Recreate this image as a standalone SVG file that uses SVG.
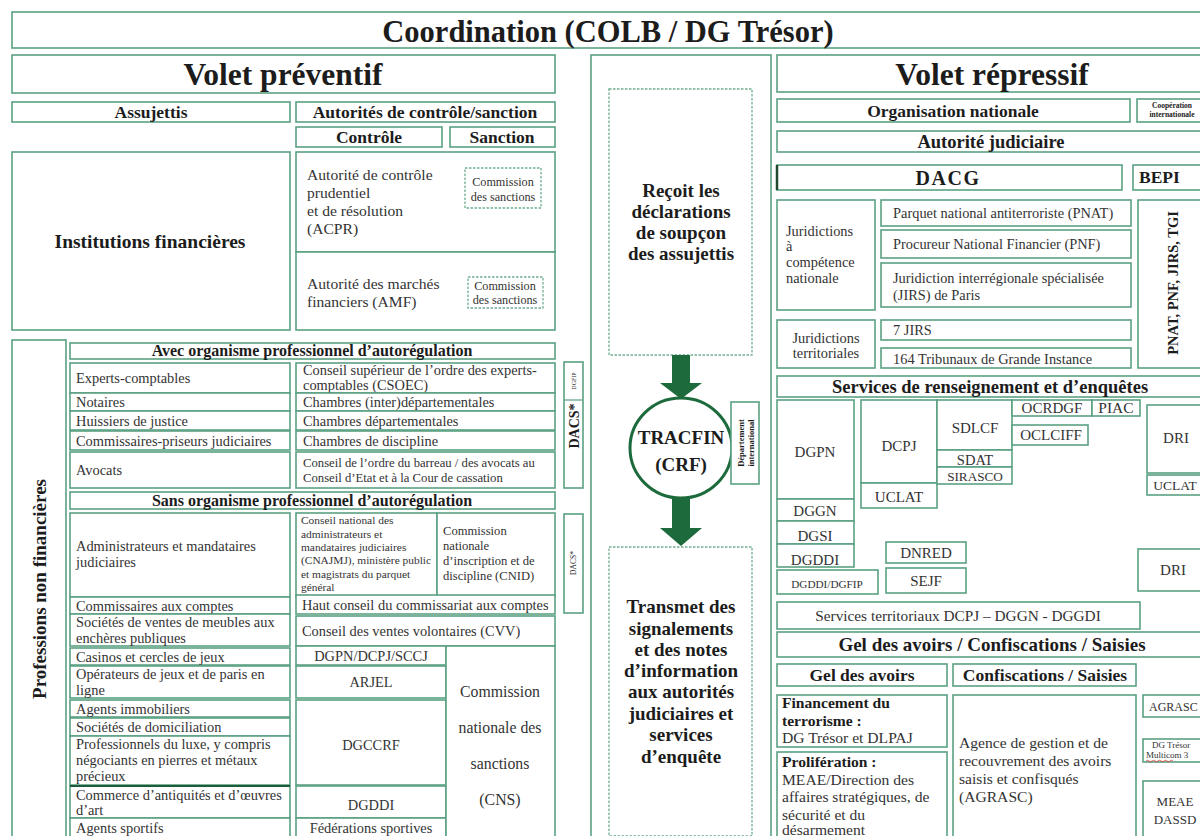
<svg xmlns="http://www.w3.org/2000/svg" width="1200" height="836" viewBox="0 0 1200 836">
<style>
.b{fill:#fff;stroke:#5aa082;stroke-width:1.6}
.d{fill:#fff;stroke:#6fae90;stroke-width:1.3;stroke-dasharray:2.5 1.5}
text{font-family:"Liberation Serif","DejaVu Serif",serif;fill:#1c1c1c}
.h{font-weight:bold}
.c{text-anchor:middle}
.r{fill:#333}
.n{font-size:14.4px}
</style>
<rect width="1200" height="836" fill="#fff"/>
<g id="title"><rect class="b" x="12" y="12" width="1196" height="36"/><text class="h c" x="608" y="42" font-size="30.5">Coordination (COLB / DG Trésor)</text></g>
<g id="volet-preventif"><rect class="b" x="12" y="55" width="543" height="38"/><text class="h c" x="283" y="85" font-size="31.5">Volet préventif</text></g>
<g id="assujettis"><rect class="b" x="12" y="102" width="278" height="20"/><text class="h c" x="151" y="118" font-size="17.5">Assujettis</text></g>
<g id="autorites"><rect class="b" x="296" y="102" width="259" height="20"/><text class="h c" x="425" y="118" font-size="17.5">Autorités de contrôle/sanction</text></g>
<g id="controle"><rect class="b" x="296" y="127" width="146" height="20"/><text class="h c" x="369" y="143" font-size="17.5">Contrôle</text></g>
<g id="sanction"><rect class="b" x="450" y="127" width="105" height="20"/><text class="h c" x="502" y="143" font-size="17.5">Sanction</text></g>
<g id="institutions"><rect class="b" x="12" y="152" width="278" height="178"/><text class="h c" x="150" y="248" font-size="19.5">Institutions financières</text></g>
<g id="acpr"><rect class="b" x="296" y="152" width="259" height="100"/><text class="r" font-size="15.6"><tspan x="307" y="180">Autorité de contrôle</tspan><tspan x="307" y="198">prudentiel</tspan><tspan x="307" y="216">et de résolution</tspan><tspan x="307" y="234">(ACPR)</tspan></text>
<rect class="d" x="465" y="168" width="76" height="40"/><text class="r c" font-size="12.2"><tspan x="503" y="186">Commission</tspan><tspan x="503" y="201">des sanctions</tspan></text></g>
<g id="amf"><rect class="b" x="296" y="252" width="259" height="78"/><text class="r" font-size="15.6"><tspan x="307" y="289">Autorité des marchés</tspan><tspan x="307" y="307">financiers (AMF)</tspan></text>
<rect class="d" x="468" y="277" width="75" height="31"/><text class="r c" font-size="12.2"><tspan x="505" y="290">Commission</tspan><tspan x="505" y="304">des sanctions</tspan></text></g>
<g id="professions-non-financieres"><rect class="b" x="12" y="340" width="54" height="500"/><text class="h c" transform="translate(46 589) rotate(-90)" font-size="19">Professions non financières</text></g>
<g id="avec-osr"><rect class="b" x="70" y="343" width="485" height="16"/><text class="h c" x="312" y="356" font-size="16">Avec organisme professionnel d’autorégulation</text></g>
<g id="experts"><rect class="b" x="70" y="363" width="220" height="30"/><text class="r n" x="76" y="383">Experts-comptables</text></g>
<g id="csoec"><rect class="b" x="296" y="363" width="259" height="30"/><text class="r n"><tspan x="303" y="375">Conseil supérieur de l’ordre des experts-</tspan><tspan x="303" y="390">comptables (CSOEC)</tspan></text></g>
<g id="notaires"><rect class="b" x="70" y="393" width="220" height="18"/><text class="r n" x="76" y="407">Notaires</text></g>
<g id="chambres-inter"><rect class="b" x="296" y="393" width="259" height="18"/><text class="r n" x="303" y="407">Chambres (inter)départementales</text></g>
<g id="huissiers"><rect class="b" x="70" y="411" width="220" height="19"/><text class="r n" x="76" y="426">Huissiers de justice</text></g>
<g id="chambres-dep"><rect class="b" x="296" y="411" width="259" height="19"/><text class="r n" x="303" y="426">Chambres départementales</text></g>
<g id="commissaires-priseurs"><rect class="b" x="70" y="431" width="220" height="19"/><text class="r n" x="76" y="446">Commissaires-priseurs judiciaires</text></g>
<g id="chambres-discipline"><rect class="b" x="296" y="431" width="259" height="19"/><text class="r n" x="303" y="446">Chambres de discipline</text></g>
<g id="avocats"><rect class="b" x="70" y="452" width="220" height="36"/><text class="r n" x="76" y="475">Avocats</text></g>
<g id="conseil-ordre"><rect class="b" x="296" y="452" width="259" height="36"/><text class="r" font-size="12.7"><tspan x="303" y="467">Conseil de l’ordre du barreau / des avocats au</tspan><tspan x="303" y="482">Conseil d’Etat et à la Cour de cassation</tspan></text></g>
<g id="dacs-1"><rect class="b" x="564" y="362" width="19" height="126"/><line x1="564" y1="400" x2="583" y2="400" stroke="#5aa082" stroke-width="1.2"/><text class="c" transform="translate(576 381) rotate(-90)" font-size="6">DGFIP</text><text class="h c" transform="translate(579 426) rotate(-90)" font-size="14">DACS*</text></g>
<g id="sans-osr"><rect class="b" x="70" y="492" width="485" height="17"/><text class="h c" x="312" y="506" font-size="16">Sans organisme professionnel d’autorégulation</text></g>
<g id="administrateurs"><rect class="b" x="70" y="513" width="220" height="84"/><text class="r n"><tspan x="76" y="551">Administrateurs et mandataires</tspan><tspan x="76" y="567">judiciaires</tspan></text></g>
<g id="cnajmj"><rect class="b" x="296" y="513" width="141" height="84"/><text class="r" font-size="11.4"><tspan x="301" y="524">Conseil national des</tspan><tspan x="301" y="538">administrateurs et</tspan><tspan x="301" y="551">mandataires judiciaires</tspan><tspan x="301" y="564">(CNAJMJ), ministère public</tspan><tspan x="301" y="578">et magistrats du parquet</tspan><tspan x="301" y="591">général</tspan></text></g>
<g id="cnid"><rect class="b" x="437" y="513" width="118" height="84"/><text class="r" font-size="12.6"><tspan x="443" y="535">Commission</tspan><tspan x="443" y="550">nationale</tspan><tspan x="443" y="565">d’inscription et de</tspan><tspan x="443" y="580">discipline (CNID)</tspan></text></g>
<g id="dacs-2"><rect class="b" x="564" y="514" width="19" height="99"/><text class="c" transform="translate(576 563) rotate(-90)" font-size="7.5">DACS*</text></g>
<g id="cac"><rect class="b" x="70" y="597" width="220" height="17"/><text class="r n" x="76" y="611">Commissaires aux comptes</text></g>
<g id="h3c"><rect class="b" x="296" y="595" width="259" height="19"/><text class="r n" x="302" y="610">Haut  conseil du commissariat aux comptes</text></g>
<g id="svv"><rect class="b" x="70" y="614" width="220" height="32"/><text class="r n"><tspan x="76" y="627">Sociétés de ventes de meubles aux</tspan><tspan x="76" y="643">enchères publiques</tspan></text></g>
<g id="cvv"><rect class="b" x="296" y="616" width="259" height="30"/><text class="r n" x="302" y="636">Conseil des ventes volontaires (CVV)</text></g>
<g id="casinos"><rect class="b" x="70" y="648" width="220" height="17"/><text class="r n" x="76" y="662">Casinos et cercles de jeux</text></g>
<g id="sccj"><rect class="b" x="296" y="646" width="150" height="19"/><text class="r c n" x="371" y="661">DGPN/DCPJ/SCCJ</text></g>
<g id="operateurs"><rect class="b" x="70" y="666" width="220" height="32"/><text class="r n"><tspan x="76" y="679">Opérateurs de jeux et de paris en</tspan><tspan x="76" y="695">ligne</tspan></text></g>
<g id="arjel"><rect class="b" x="296" y="666" width="150" height="32"/><text class="r c n" x="371" y="687">ARJEL</text></g>
<g id="immobiliers"><rect class="b" x="70" y="700" width="220" height="17"/><text class="r n" x="76" y="714">Agents immobiliers</text></g>
<g id="domiciliation"><rect class="b" x="70" y="718" width="220" height="18"/><text class="r n" x="76" y="732">Sociétés de domiciliation</text></g>
<g id="luxe"><rect class="b" x="70" y="736" width="220" height="49"/><text class="r n"><tspan x="76" y="749">Professionnels du luxe, y compris</tspan><tspan x="76" y="765">négociants en pierres et métaux</tspan><tspan x="76" y="781">précieux</tspan></text></g>
<g id="dgccrf"><rect class="b" x="296" y="700" width="150" height="85"/><text class="r c n" x="371" y="750">DGCCRF</text></g>
<g id="antiquites"><rect class="b" x="70" y="786" width="220" height="32"/><line x1="70" y1="786" x2="290" y2="786" stroke="#1f5a3a" stroke-width="2"/><text class="r n"><tspan x="76" y="800">Commerce d’antiquités et d’œuvres</tspan><tspan x="76" y="815">d’art</tspan></text></g>
<g id="dgddi-p"><rect class="b" x="296" y="786" width="150" height="32"/><text class="r c n" x="371" y="810">DGDDI</text></g>
<g id="sportifs"><rect class="b" x="70" y="818" width="220" height="22"/><text class="r n" x="76" y="833">Agents sportifs</text></g>
<g id="federations"><rect class="b" x="296" y="818" width="150" height="22"/><text class="r c n" x="371" y="833">Fédérations sportives</text></g>
<g id="cns"><rect class="b" x="446" y="646" width="109" height="194"/><text class="r c" font-size="15.8"><tspan x="500" y="697">Commission</tspan><tspan x="500" y="733">nationale des</tspan><tspan x="500" y="769">sanctions</tspan><tspan x="500" y="805">(CNS)</tspan></text></g>

<g id="tracfin-column"><rect class="b" x="591" y="55" width="180" height="785"/></g>
<g id="recoit"><rect class="d" x="609" y="89" width="143" height="266"/><text class="h c" font-size="19"><tspan x="681" y="197">Reçoit les</tspan><tspan x="681" y="218">déclarations</tspan><tspan x="681" y="239">de soupçon</tspan><tspan x="681" y="260">des assujettis</tspan></text></g>
<g id="tracfin"><ellipse cx="681" cy="448" rx="51" ry="50" fill="#fff" stroke="#1d6b3c" stroke-width="3"/><text class="h c" font-size="19"><tspan x="681" y="444">TRACFIN</tspan><tspan x="681" y="471">(CRF)</tspan></text></g>
<g id="departement-international"><rect class="b" x="731" y="402" width="28" height="82"/><text class="h c" transform="translate(744 443) rotate(-90)" font-size="8.5"><tspan x="0" y="0">Département</tspan><tspan x="0" y="10">international</tspan></text></g>
<g id="transmet"><rect class="d" x="609" y="547" width="143" height="289"/><text class="h c" font-size="19"><tspan x="681" y="613">Transmet des</tspan><tspan x="681" y="635">signalements</tspan><tspan x="681" y="656">et des notes</tspan><tspan x="681" y="677">d’information</tspan><tspan x="681" y="698">aux autorités</tspan><tspan x="681" y="720">judiciaires et</tspan><tspan x="681" y="741">services</tspan><tspan x="681" y="763">d’enquête</tspan></text></g>
<g id="connectors" fill="#1d6b3c">
<polygon points="672,355 690,355 690,383 702,383 681,399 660,383 672,383"/>
<polygon points="672,498 690,498 690,528 702,528 681,546 660,528 672,528"/>
</g>

<g id="volet-repressif"><rect class="b" x="777" y="55" width="431" height="37"/><text class="h c" x="992" y="85" font-size="31.5">Volet répressif</text></g>
<g id="organisation-nationale"><rect class="b" x="777" y="99" width="353" height="23"/><text class="h c" x="953" y="117" font-size="17.5">Organisation nationale</text></g>
<g id="cooperation"><rect class="b" x="1137" y="99" width="70" height="23"/><text class="h c" font-size="7.5"><tspan x="1172" y="108">Coopération</tspan><tspan x="1172" y="117">internationale</tspan></text></g>
<g id="autorite-judiciaire"><rect class="b" x="777" y="131" width="431" height="21"/><text class="h c" x="991" y="148" font-size="18.5">Autorité judiciaire</text></g>
<g id="dacg"><rect class="b" x="777" y="165" width="345" height="25"/><line x1="777" y1="165" x2="777" y2="190" stroke="#1f4a30" stroke-width="2.5"/><text class="h c" x="948" y="185" font-size="20" letter-spacing="1.5" fill="#111">DACG</text></g>
<g id="bepi"><rect class="b" x="1133" y="165" width="75" height="25"/><text class="h" x="1139" y="183" font-size="17.5">BEPI</text></g>
<g id="jur-nationale"><rect class="b" x="777" y="200" width="98" height="110"/><text class="r" font-size="14.4"><tspan x="786" y="236">Juridictions</tspan><tspan x="786" y="251">à</tspan><tspan x="786" y="267">compétence</tspan><tspan x="786" y="283">nationale</tspan></text></g>
<g id="pnat"><rect class="b" x="881" y="200" width="250" height="26"/><text class="r n" x="893" y="218">Parquet national antiterroriste (PNAT)</text></g>
<g id="pnf"><rect class="b" x="881" y="230" width="250" height="28"/><text class="r n" x="893" y="249">Procureur National Financier  (PNF)</text></g>
<g id="jirs-paris"><rect class="b" x="881" y="263" width="250" height="44"/><text class="r n"><tspan x="893" y="283">Juridiction interrégionale spécialisée</tspan><tspan x="893" y="300">(JIRS) de Paris</tspan></text></g>
<g id="jur-territoriales"><rect class="b" x="777" y="320" width="98" height="48"/><text class="r c n"><tspan x="826" y="343">Juridictions</tspan><tspan x="826" y="358">territoriales</tspan></text></g>
<g id="jirs7"><rect class="b" x="881" y="320" width="250" height="20"/><text class="r n" x="893" y="335">7 JIRS</text></g>
<g id="tgi"><rect class="b" x="881" y="348" width="250" height="20"/><text class="r n" x="893" y="364">164 Tribunaux de Grande Instance</text></g>
<g id="pnat-pnf-jirs-tgi"><rect class="b" x="1138" y="200" width="70" height="168"/><text class="h c" transform="translate(1178 283) rotate(-90)" font-size="14.5">PNAT, PNF, JIRS, TGI</text></g>
<g id="services-renseignement"><rect class="b" x="777" y="376" width="431" height="21"/><text class="h c" x="990" y="393" font-size="18.5">Services de renseignement et d’enquêtes</text></g>
<g id="dgpn"><rect class="b" x="777" y="400" width="77" height="99"/><text class="r c" x="815" y="457" font-size="15">DGPN</text></g>
<g id="dggn"><rect class="b" x="777" y="499" width="77" height="22"/><text class="r c" x="815" y="516" font-size="15">DGGN</text></g>
<g id="dgsi"><rect class="b" x="777" y="521" width="77" height="23"/><text class="r c" x="815" y="541" font-size="15">DGSI</text></g>
<g id="dgddi"><rect class="b" x="777" y="544" width="77" height="23"/><text class="r c" x="815" y="565" font-size="15">DGDDI</text></g>
<g id="dgddi-dgfip"><rect class="b" x="777" y="570" width="101" height="24"/><text class="r c" x="827" y="588" font-size="11.2">DGDDI/DGFIP</text></g>
<g id="dcpj"><rect class="b" x="861" y="400" width="76" height="83"/><text class="r c" x="899" y="451" font-size="15">DCPJ</text></g>
<g id="uclat-1"><rect class="b" x="861" y="483" width="76" height="25"/><text class="r c" x="899" y="502" font-size="15">UCLAT</text></g>
<g id="sdlcf"><rect class="b" x="937" y="400" width="75" height="50"/><text class="r c" x="975" y="433" font-size="15">SDLCF</text></g>
<g id="sdat"><rect class="b" x="937" y="450" width="75" height="17"/><text class="r c" x="975" y="465" font-size="14.5">SDAT</text></g>
<g id="sirasco"><rect class="b" x="937" y="467" width="75" height="17"/><text class="r c" x="975" y="481" font-size="13.2">SIRASCO</text></g>
<g id="ocrdgf"><rect class="b" x="1012" y="400" width="80" height="16"/><text class="r c" x="1052" y="413" font-size="15">OCRDGF</text></g>
<g id="piac"><rect class="b" x="1092" y="400" width="48" height="16"/><text class="r c" x="1116" y="413" font-size="15.5">PIAC</text></g>
<g id="oclciff"><rect class="b" x="1012" y="425" width="76" height="20"/><text class="r c" x="1051" y="440" font-size="15">OCLCIFF</text></g>
<g id="dri-1"><rect class="b" x="1147" y="405" width="61" height="68"/><text class="r c" x="1176" y="443" font-size="15">DRI</text></g>
<g id="uclat-2"><rect class="b" x="1147" y="475" width="61" height="20"/><text class="r c" x="1175" y="490" font-size="13.5">UCLAT</text></g>
<g id="dnred"><rect class="b" x="886" y="542" width="80" height="21"/><text class="r c" x="926" y="558" font-size="15">DNRED</text></g>
<g id="sejf"><rect class="b" x="886" y="568" width="80" height="25"/><text class="r c" x="926" y="586" font-size="15">SEJF</text></g>
<g id="dri-2"><rect class="b" x="1138" y="549" width="70" height="42"/><text class="r c" x="1173" y="575" font-size="15">DRI</text></g>
<g id="services-territoriaux"><rect class="b" x="777" y="602" width="363" height="27"/><text class="r c" x="958" y="621" font-size="15.3">Services territoriaux DCPJ – DGGN - DGGDI</text></g>
<g id="gel-confiscations"><rect class="b" x="777" y="632" width="431" height="25"/><text class="h c" x="992" y="651" font-size="19">Gel des avoirs / Confiscations / Saisies</text></g>
<g id="gel-avoirs"><rect class="b" x="777" y="664" width="170" height="22"/><text class="h c" x="862" y="681" font-size="17.5">Gel des avoirs</text></g>
<g id="confiscations"><rect class="b" x="953" y="664" width="183" height="22"/><text class="h c" x="1045" y="681" font-size="17.5">Confiscations / Saisies</text></g>
<g id="financement-terrorisme"><rect class="b" x="777" y="695" width="170" height="52"/><text font-size="15.6"><tspan class="h" x="782" y="708">Financement du</tspan><tspan class="h" x="782" y="726">terrorisme :</tspan><tspan class="r" x="782" y="743">DG Trésor et DLPAJ</tspan></text></g>
<g id="proliferation"><rect class="b" x="777" y="752" width="170" height="88"/><text font-size="15.6"><tspan class="h" x="782" y="767">Prolifération :</tspan><tspan class="r" x="782" y="785">MEAE/Direction des</tspan><tspan class="r" x="782" y="802">affaires stratégiques, de</tspan><tspan class="r" x="782" y="820">sécurité et du</tspan><tspan class="r" x="782" y="835">désarmement</tspan></text></g>
<g id="agrasc-agence"><rect class="b" x="953" y="695" width="183" height="145"/><text class="r" font-size="15.6"><tspan x="959" y="748">Agence de gestion et de</tspan><tspan x="959" y="766">recouvrement des avoirs</tspan><tspan x="959" y="784">saisis et confisqués</tspan><tspan x="959" y="802">(AGRASC)</tspan></text></g>
<g id="agrasc"><rect class="b" x="1143" y="695" width="65" height="22"/><text class="r" x="1149" y="711" font-size="12">AGRASC</text></g>
<g id="dg-tresor-multicom"><rect class="b" x="1143" y="739" width="65" height="23"/><text class="r" font-size="9"><tspan x="1152" y="748">DG Trésor</tspan><tspan x="1146" y="758">Multicom 3</tspan></text><path d="M1146 761 q1.5 -1.5 3 0 t3 0 t3 0 t3 0 t3 0 t3 0 t3 0 t3 0 t3 0" fill="none" stroke="#d33" stroke-width="0.8"/></g>
<g id="meae-dassd"><rect class="b" x="1143" y="781" width="65" height="59"/><text class="r c" font-size="13"><tspan x="1175" y="806">MEAE</tspan><tspan x="1175" y="824">DASSD</tspan></text></g>
</svg>
